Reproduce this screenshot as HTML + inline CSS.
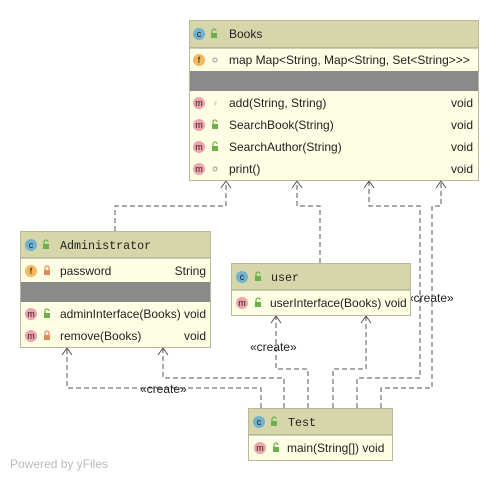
<!DOCTYPE html>
<html><head><meta charset="utf-8"><style>
html,body{margin:0;padding:0;background:#fff;}
svg{display:block;}
text{font-family:"Liberation Sans",sans-serif;font-size:12px;fill:#222;}
.mono{font-family:"Liberation Mono",monospace;font-size:11.7px;}
.ic{font-size:9px;text-anchor:middle;}
</style></head><body>
<svg width="498" height="481" viewBox="0 0 498 481" xmlns="http://www.w3.org/2000/svg">
<defs>
<g id="lock"><rect x="-3" y="-1" width="6" height="5" fill="#6cb04a"/><path d="M-2,-1 v-2 a2,2 0 0 1 4,0" fill="none" stroke="#6cb04a" stroke-width="1.2"/></g>
<g id="plock"><rect x="-3" y="-1" width="6" height="5" fill="#e0885a"/><path d="M-2,-1 v-2 a2,2 0 0 1 4,0 v2" fill="none" stroke="#e0885a" stroke-width="1.2"/></g>
</defs>
<!-- connectors -->
<g fill="none" stroke="#555" stroke-width="1" stroke-dasharray="5,3">
<path d="M115,231 V206 H226 V181"/>
<path d="M320,263 V206 H297 V181"/>
<path d="M357,408 V378 H420 V206 H369 V181"/>
<path d="M381,408 V388 H432 V206 H441 V181"/>
<path d="M308,408 V369 H276 V316"/>
<path d="M333,408 V369 H366 V316"/>
<path d="M261,408 V388 H67 V348"/>
<path d="M284,408 V378 H163 V348"/>
</g>
<g fill="none" stroke="#555" stroke-width="1">
<path d="M221,188 L226,181 L231,188"/>
<path d="M292,188 L297,181 L302,188"/>
<path d="M364,188 L369,181 L374,188"/>
<path d="M436,188 L441,181 L446,188"/>
<path d="M271,323 L276,316 L281,323"/>
<path d="M361,323 L366,316 L371,323"/>
<path d="M62,355 L67,348 L72,355"/>
<path d="M158,355 L163,348 L168,355"/>
</g>
<text x="407" y="302">«create»</text>
<text x="250" y="351">«create»</text>
<text x="140" y="393">«create»</text>

<!-- Books -->
<rect x="189.5" y="20.5" width="289" height="160" fill="#fefee4" stroke="#b9b99a"/>
<rect x="190" y="21" width="288" height="27" fill="#d6d6aa"/>
<line x1="190" y1="48" x2="478" y2="48" stroke="#999980"/>
<rect x="190" y="71" width="288" height="20" fill="#8a8a8a"/>
<circle cx="199" cy="34" r="6" fill="#6fb3d0"/><text class="ic" x="199" y="37">c</text>
<use href="#lock" x="214" y="34"/>
<text x="229" y="38">Books</text>
<circle cx="199" cy="60" r="6" fill="#f4b860"/><text class="ic" x="199" y="63">f</text>
<circle cx="215" cy="60" r="2" fill="none" stroke="#999"/>
<text x="229" y="64">map Map&lt;String, Map&lt;String, Set&lt;String&gt;&gt;&gt;</text>
<circle cx="199" cy="103" r="6" fill="#f1a3ad"/><text class="ic" x="199" y="106">m</text>
<text x="212" y="106" style="font-size:9px;fill:#999">♀</text>
<text x="229" y="107">add(String, String)</text><text x="473" y="107" text-anchor="end">void</text>
<circle cx="199" cy="125" r="6" fill="#f1a3ad"/><text class="ic" x="199" y="128">m</text>
<use href="#lock" x="215" y="125"/>
<text x="229" y="129">SearchBook(String)</text><text x="473" y="129" text-anchor="end">void</text>
<circle cx="199" cy="147" r="6" fill="#f1a3ad"/><text class="ic" x="199" y="150">m</text>
<use href="#lock" x="215" y="147"/>
<text x="229" y="151">SearchAuthor(String)</text><text x="473" y="151" text-anchor="end">void</text>
<circle cx="199" cy="169" r="6" fill="#f1a3ad"/><text class="ic" x="199" y="172">m</text>
<circle cx="215" cy="169" r="2" fill="none" stroke="#999"/>
<text x="229" y="173">print()</text><text x="473" y="173" text-anchor="end">void</text>

<!-- Administrator -->
<rect x="20.5" y="231.5" width="190" height="116" fill="#fefee4" stroke="#b9b99a"/>
<rect x="21" y="232" width="189" height="26" fill="#d6d6aa"/>
<line x1="21" y1="258" x2="210" y2="258" stroke="#999980"/>
<rect x="21" y="282" width="189" height="20" fill="#8a8a8a"/>
<circle cx="31" cy="245" r="6" fill="#6fb3d0"/><text class="ic" x="31" y="248">c</text>
<use href="#lock" x="46" y="245"/>
<text class="mono" x="60" y="249">Administrator</text>
<circle cx="31" cy="271" r="6" fill="#f4b860"/><text class="ic" x="31" y="274">f</text>
<use href="#plock" x="47" y="271"/>
<text x="60" y="275">password</text><text x="206" y="275" text-anchor="end">String</text>
<circle cx="31" cy="314" r="6" fill="#f1a3ad"/><text class="ic" x="31" y="317">m</text>
<use href="#lock" x="47" y="314"/>
<text x="60" y="318">adminInterface(Books)</text><text x="206" y="318" text-anchor="end">void</text>
<circle cx="31" cy="336" r="6" fill="#f1a3ad"/><text class="ic" x="31" y="339">m</text>
<use href="#plock" x="47" y="336"/>
<text x="60" y="340">remove(Books)</text><text x="206" y="340" text-anchor="end">void</text>

<!-- user -->
<rect x="231.5" y="263.5" width="179" height="52" fill="#fefee4" stroke="#b9b99a"/>
<rect x="232" y="264" width="178" height="26" fill="#d6d6aa"/>
<line x1="232" y1="290" x2="410" y2="290" stroke="#999980"/>
<circle cx="242" cy="277" r="6" fill="#6fb3d0"/><text class="ic" x="242" y="280">c</text>
<use href="#lock" x="258" y="277"/>
<text class="mono" x="271" y="281">user</text>
<circle cx="242" cy="303" r="6" fill="#f1a3ad"/><text class="ic" x="242" y="306">m</text>
<use href="#lock" x="258" y="303"/>
<text x="270" y="307">userInterface(Books) void</text>

<!-- Test -->
<rect x="248.5" y="408.5" width="144" height="52" fill="#fefee4" stroke="#b9b99a"/>
<rect x="249" y="409" width="143" height="26" fill="#d6d6aa"/>
<line x1="249" y1="435" x2="392" y2="435" stroke="#999980"/>
<circle cx="259" cy="422" r="6" fill="#6fb3d0"/><text class="ic" x="259" y="425">c</text>
<use href="#lock" x="274" y="422"/>
<text class="mono" x="288" y="426">Test</text>
<circle cx="260" cy="448" r="6" fill="#f1a3ad"/><text class="ic" x="260" y="451">m</text>
<use href="#lock" x="276" y="448"/>
<text x="287" y="452">main(String[]) void</text>

<text x="10" y="468" style="fill:#bbb;font-size:12px">Powered by yFiles</text>
</svg>
</body></html>
